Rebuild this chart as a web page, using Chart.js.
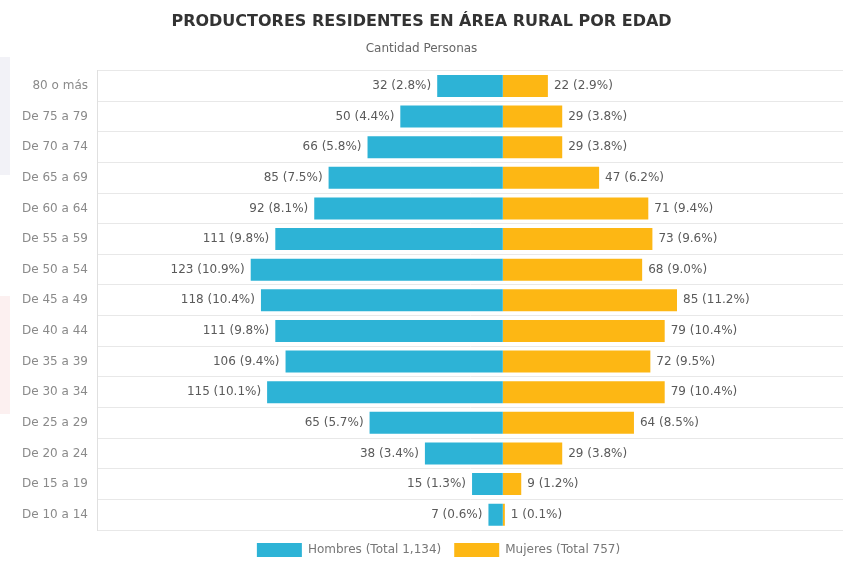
<!DOCTYPE html>
<html>
<head>
<meta charset="utf-8">
<script src="https://cdn.jsdelivr.net/npm/chart.js@4/dist/chart.umd.min.js"></script>
<style>
  html, body { margin: 0; padding: 0; background: #fff; }
  #wrap { position: relative; width: 851px; height: 561px; }
  .wm1 { position: absolute; left: 0; top: 57px; width: 10px; height: 118px; background: #f2f2f7; }
  .wm2 { position: absolute; left: 0; top: 296px; width: 10px; height: 118px; background: #fcf0f0; }
  canvas { position: absolute; left: 0; top: 0; }
</style>
</head>
<body>
<div id="wrap">
  <div class="wm1"></div>
  <div class="wm2"></div>
  <canvas id="c" width="851" height="561"></canvas>
</div>
<script>
const categories = ["80 o más","De 75 a 79","De 70 a 74","De 65 a 69","De 60 a 64","De 55 a 59","De 50 a 54","De 45 a 49","De 40 a 44","De 35 a 39","De 30 a 34","De 25 a 29","De 20 a 24","De 15 a 19","De 10 a 14"];
const hombres = [32, 50, 66, 85, 92, 111, 123, 118, 111, 106, 115, 65, 38, 15, 7];
const hombresPct = ["2.8%","4.4%","5.8%","7.5%","8.1%","9.8%","10.9%","10.4%","9.8%","9.4%","10.1%","5.7%","3.4%","1.3%","0.6%"];
const mujeres = [22, 29, 29, 47, 71, 73, 68, 85, 79, 72, 79, 64, 29, 9, 1];
const mujeresPct = ["2.9%","3.8%","3.8%","6.2%","9.4%","9.6%","9.0%","11.2%","10.4%","9.5%","10.4%","8.5%","3.8%","1.2%","0.1%"];
const seriesNames = ["Hombres (Total 1,134)", "Mujeres (Total 757)"];
const titleText = "PRODUCTORES RESIDENTES EN ÁREA RURAL POR EDAD";
const subtitleText = "Cantidad Personas";

const FONT = '"DejaVu Sans", Verdana, sans-serif';

const labelPlugin = {
  id: 'barLabels',
  afterDatasetsDraw(chart) {
    const ctx = chart.ctx;
    ctx.save();
    ctx.font = '12px ' + FONT;
    ctx.fillStyle = '#5a5a5a';
    ctx.textBaseline = 'middle';
    chart.data.datasets.forEach((ds, di) => {
      const meta = chart.getDatasetMeta(di);
      meta.data.forEach((bar, i) => {
        const v = ds.data[i];
        const txt = Math.abs(v) + ' (' + ds.pct[i] + ')';
        if (v < 0) {
          ctx.textAlign = 'right';
          ctx.fillText(txt, bar.x - 6, bar.y);
        } else {
          ctx.textAlign = 'left';
          ctx.fillText(txt, bar.x + 6, bar.y);
        }
      });
    });
    ctx.restore();
  }
};

const legendShift = {
  id: 'legendShift',
  afterLayout(chart) {
    if (chart.legend) {
      chart.legend.left += 17;
      chart.legend.right += 17;
    }
  }
};

new Chart(document.getElementById('c'), {
  type: 'bar',
  data: {
    labels: categories,
    datasets: [
      { label: seriesNames[0], data: hombres.map(v => -v), pct: hombresPct, backgroundColor: '#2db3d6', borderWidth: 0, barPercentage: 0.72, categoryPercentage: 1 },
      { label: seriesNames[1], data: mujeres, pct: mujeresPct, backgroundColor: '#fdb714', borderWidth: 0, barPercentage: 0.72, categoryPercentage: 1 }
    ]
  },
  options: {
    responsive: false,
    animation: false,
    indexAxis: 'y',
    layout: { padding: { left: 0, right: 8, top: 4, bottom: -6 } },
    scales: {
      x: {
        stacked: true,
        min: -198,
        max: 166,
        display: false
      },
      y: {
        stacked: true,
        grid: { color: '#e8e8e8', offset: true, drawTicks: false },
        border: { color: '#e0e0e0' },
        ticks: { color: '#8a8a8a', font: { size: 12, family: FONT }, padding: 9 },
        afterFit(scale) { scale.width = 97; }
      }
    },
    plugins: {
      title: {
        display: true,
        text: titleText,
        color: '#333',
        font: { size: 16, weight: 'bold', family: FONT },
        padding: { top: 8, bottom: 10 }
      },
      subtitle: {
        display: true,
        text: subtitleText,
        color: '#666',
        font: { size: 12, family: FONT },
        padding: { bottom: 15 }
      },
      legend: {
        position: 'bottom',
        labels: {
          boxWidth: 45,
          boxHeight: 14,
          color: '#777',
          font: { size: 12, family: FONT },
          padding: 13
        }
      },
      tooltip: { enabled: false }
    }
  },
  plugins: [labelPlugin, legendShift]
});
</script>
</body>
</html>
